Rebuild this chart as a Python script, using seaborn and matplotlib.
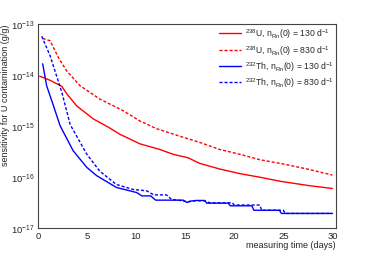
import numpy as np
import pandas as pd
import matplotlib
matplotlib.use('Agg')
import matplotlib.pyplot as plt
import matplotlib.ticker as mticker
import seaborn as sns

# valores (tempo em dias, sensibilidade em g/g)
u_low_t = [0.2, 1.25, 2.45, 2.95, 3.95, 5.66, 7.2, 8.37, 10.4, 12.4, 13.8, 15.3,
           16.5, 18.5, 20.6, 22.6, 24.7, 27.7, 30.0]
u_low_s = [9.5e-15, 7.9e-15, 6.0e-15, 4.3e-15, 2.5e-15, 1.38e-15, 9.5e-16, 6.9e-16,
           4.5e-16, 3.5e-16, 2.8e-16, 2.4e-16, 1.86e-16, 1.45e-16, 1.17e-16, 1.0e-16,
           8.3e-17, 6.8e-17, 6.0e-17]

u_high_t = [0.5, 1.25, 2.1, 2.95, 4.3, 6.3, 8.7, 10.4, 12.1, 14.5, 16.5, 18.5,
            20.6, 22.6, 24.7, 27.4, 30.0]
u_high_s = [5.2e-14, 4.7e-14, 2.2e-14, 1.2e-14, 6.2e-15, 3.4e-15, 2.0e-15, 1.26e-15,
            8.9e-16, 6.3e-16, 4.8e-16, 3.5e-16, 2.8e-16, 2.2e-16, 1.86e-16, 1.45e-16,
            1.1e-16]

th_low_t = [0.5, 0.9, 1.6, 2.27, 3.6, 5.0, 6.0, 8.0, 10.07, 10.6, 11.5, 12.0, 14.8,
            15.2, 15.6, 16.1, 17.0, 17.2, 19.4, 19.6, 21.8, 22.0, 24.6, 24.8, 30.0]
th_low_s = [1.66e-14, 6.2e-15, 2.5e-15, 1.02e-15, 3.3e-16, 1.55e-16, 1.07e-16, 6.3e-17,
            5.0e-17, 4.3e-17, 4.3e-17, 3.55e-17, 3.55e-17, 3.2e-17, 3.4e-17, 3.5e-17,
            3.5e-17, 3.1e-17, 3.1e-17, 2.75e-17, 2.75e-17, 2.25e-17, 2.25e-17, 1.95e-17,
            1.95e-17]

th_high_t = [0.4, 1.25, 2.45, 3.3, 5.0, 6.3, 8.0, 9.7, 11.1, 11.8, 13.1, 13.6, 14.5,
             15.2, 16.0, 17.0, 17.5, 19.8, 20.0, 22.6, 22.8, 25.0, 25.2, 30.0]
th_high_s = [5.75e-14, 2.4e-14, 4.6e-15, 1.07e-15, 2.8e-16, 1.32e-16, 7.2e-17, 5.75e-17,
             5.4e-17, 4.5e-17, 4.5e-17, 3.7e-17, 3.5e-17, 3.3e-17, 3.45e-17, 3.45e-17,
             3.15e-17, 3.15e-17, 2.85e-17, 2.85e-17, 2.25e-17, 2.25e-17, 1.95e-17, 1.95e-17]

labels = [r'$^{238}$U, n$_{\rm Rn}$(0) = 130 d$^{-1}$',
          r'$^{238}$U, n$_{\rm Rn}$(0) = 830 d$^{-1}$',
          r'$^{232}$Th, n$_{\rm Rn}$(0) = 130 d$^{-1}$',
          r'$^{232}$Th, n$_{\rm Rn}$(0) = 830 d$^{-1}$']

sns.set_style('white')
plt.rcParams['font.family'] = ['Liberation Sans', 'DejaVu Sans']
plt.rcParams['mathtext.fontset'] = 'custom'
plt.rcParams['mathtext.rm'] = 'Liberation Sans'
plt.rcParams['mathtext.it'] = 'Liberation Sans:italic'
plt.rcParams['mathtext.bf'] = 'Liberation Sans:bold'

fig = plt.figure(figsize=(3.74, 2.55), dpi=100)
ax = fig.add_axes([0.101, 0.101, 0.797, 0.801])

series = [(u_low_t, u_low_s, 'red', '-'),
          (u_high_t, u_high_s, 'red', '--'),
          (th_low_t, th_low_s, 'blue', '-'),
          (th_high_t, th_high_s, 'blue', '--')]

for (t, s, cor, estilo), lab in zip(series, labels):
    df = pd.DataFrame({'t': t, 's': s})
    sns.lineplot(data=df, x='t', y='s', color=cor, lw=1.0, ax=ax, label=lab)
    l = ax.get_lines()[-1]
    if estilo == '--':
        l.set_dashes((2.2, 1.4))

ax.set_yscale('log')
ax.set_ylim(1e-17, 1e-13)
ax.set_xlim(0, 30.35)
ax.xaxis.set_major_locator(mticker.MultipleLocator(5))
ax.xaxis.set_minor_locator(mticker.MultipleLocator(1))
ax.yaxis.set_major_locator(mticker.FixedLocator([1e-17, 1e-16, 1e-15, 1e-14, 1e-13]))
ax.yaxis.set_minor_locator(mticker.LogLocator(base=10, subs=np.arange(2, 10)))
ax.yaxis.set_minor_formatter(mticker.NullFormatter())

ax.tick_params(axis='both', which='major', direction='in', length=4.5, width=0.6,
               labelsize=6.8, color='#333333', pad=2)
ax.tick_params(axis='both', which='minor', direction='in', length=2.2, width=0.5,
               color='#333333')
ax.tick_params(top=False, right=False, which='both')
for sp in ax.spines.values():
    sp.set_color('#444444')
    sp.set_linewidth(0.8)

ax.set_xlabel('measuring time (days)', loc='right', fontsize=6.5, labelpad=0)
ax.set_ylabel('sensitivity for U contamination (g/g)', loc='top', fontsize=6.5, labelpad=1)

ax.legend(loc='upper right', frameon=False, fontsize=6.2, handlelength=2.6,
          labelspacing=0.3, borderaxespad=0.1, handletextpad=0.4,
          borderpad=0.2)

fig.savefig('out.png', dpi=100)
